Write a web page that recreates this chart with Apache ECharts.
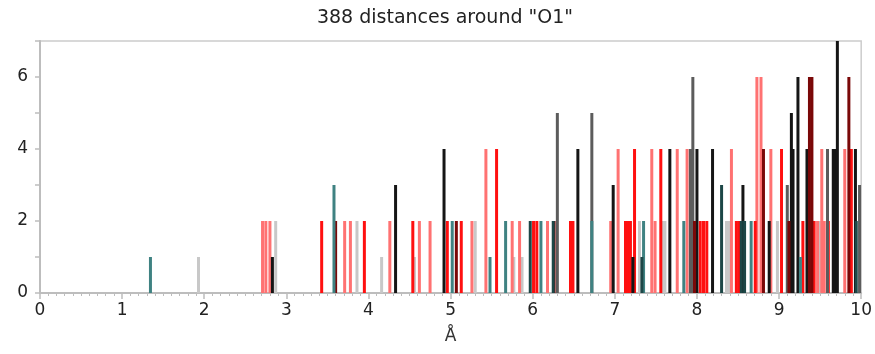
<!DOCTYPE html>
<html>
<head>
<meta charset="utf-8">
<script src="https://cdn.jsdelivr.net/npm/echarts@6/dist/echarts.min.js"></script>
<style>html,body{margin:0;padding:0;background:#fff}#c{width:875px;height:354px}</style>
</head>
<body>
<div id="c"></div>
<script>
const titleText = '388 distances around "O1"';
const xAxisName = 'Å';
const xTicks = [0,1,2,3,4,5,6,7,8,9,10];
const yTicks = [0,2,4,6];

// [distance (Å), count]
const pinkBars = [[2.71,2],[2.75,2],[2.80,2],[3.71,2],[3.78,2],[4.26,2],[4.62,2],[4.75,2],[5.26,2],[5.43,4],[5.75,2],[5.84,2],[6.18,2],[6.95,2],[7.04,4],[7.45,4],[7.49,2],[7.76,4],[7.88,4],[8.42,4],[8.73,6],[8.78,6],[8.90,4],[9.44,2],[9.47,2],[9.52,4],[9.55,2],[9.80,4]];
const redBars = [[3.43,2],[3.95,2],[4.54,2],[4.96,2],[5.13,2],[5.56,4],[6.01,2],[6.05,2],[6.46,2],[6.49,2],[7.13,2],[7.16,2],[7.19,2],[7.24,4],[7.56,4],[8.04,2],[8.08,2],[8.12,2],[8.48,2],[8.51,2],[8.71,2],[9.03,4],[9.29,2],[9.42,2],[9.60,2],[9.88,4]];
const darkRedBars = [[3.60,2],[5.07,2],[6.26,2],[7.97,2],[8.81,4],[9.12,2],[9.37,6],[9.40,6],[9.85,6]];
const blackBars = [[2.83,1],[4.33,3],[4.92,4],[6.55,4],[6.98,3],[7.22,1],[7.67,4],[8.00,4],[8.19,4],[8.56,3],[8.88,2],[9.15,5],[9.17,4],[9.23,6],[9.34,4],[9.66,4],[9.68,4],[9.71,7],[9.93,4]];
const darkGrayBars = [[6.30,5],[6.72,5],[7.92,4],[7.95,6],[7.93,4],[9.10,3],[9.59,4],[9.98,3]];
const tealBars = [[1.345,1],[3.58,3],[5.02,2],[5.48,1],[5.67,2],[6.10,2],[6.72,2],[7.35,2],[7.84,2],[8.66,2],[9.26,1]];
const darkTealBars = [[5.97,2],[6.25,2],[7.33,1],[8.30,3],[8.54,2],[8.58,2],[9.94,2]];
const lightGrayBars = [[1.93,1],[2.87,2],[3.86,2],[4.16,1],[4.56,1],[5.30,2],[5.77,1],[5.87,1],[7.30,2],[7.58,2],[7.61,2],[8.36,2],[8.39,2],[8.98,2],[9.50,2]];

const groups = [
  {name:'lightgray', data:lightGrayBars, color:'#c8c8c8'},
  {name:'pink', data:pinkBars, color:'#ff7272'},
  {name:'red', data:redBars, color:'#ff1010'},
  {name:'darkgray', data:darkGrayBars, color:'#5c5c5c'},
  {name:'black', data:blackBars, color:'#151515'},
  {name:'darkred', data:darkRedBars, color:'#7a0808'},
  {name:'teal', data:tealBars, color:'#3f8282'},
  {name:'darkteal', data:darkTealBars, color:'#1d4747'}
];

const chart = echarts.init(document.getElementById('c'), null, {renderer:'canvas'});
const font = 'DejaVu Sans, Verdana, sans-serif';
chart.setOption({
  animation:false,
  backgroundColor:'#fff',
  title:{text:titleText, left:440, top:4, textAlign:'center',
    textStyle:{fontFamily:font, fontSize:19, fontWeight:'normal', color:'#222'}},
  grid:{left:40, right:12, top:41, bottom:61, show:true, borderColor:'#cccccc', borderWidth:1.5, backgroundColor:'transparent'},
  xAxis:{type:'value', min:0, max:10, interval:1,
    name:xAxisName, nameLocation:'middle', nameGap:35,
    nameTextStyle:{fontFamily:font, fontSize:17, color:'#333'},
    axisLine:{show:true, lineStyle:{color:'#bdbdbd', width:2}},
    axisTick:{show:true, length:6, lineStyle:{color:'#bdbdbd', width:1.5}},
    minorTick:{show:true, splitNumber:10, length:3, lineStyle:{color:'#bdbdbd'}},
    splitLine:{show:false},
    axisLabel:{fontFamily:font, fontSize:17, color:'#222', margin:9,
      formatter:v=>xTicks.includes(v)?String(v):''}},
  yAxis:{type:'value', min:0, max:7, interval:1,
    axisLine:{show:true, lineStyle:{color:'#bdbdbd', width:2}},
    axisTick:{show:true, length:5, lineStyle:{color:'#bdbdbd', width:1.5}},
    splitLine:{show:false},
    axisLabel:{fontFamily:font, fontSize:17, color:'#222', margin:12,
      formatter:v=>yTicks.includes(v)?String(v):''}},
  series:groups.map(g=>({
    name:g.name, type:'bar', data:g.data, barWidth:3, barGap:'-100%',
    itemStyle:{color:g.color}, emphasis:{disabled:true}, z:2
  }))
});
</script>
</body>
</html>
